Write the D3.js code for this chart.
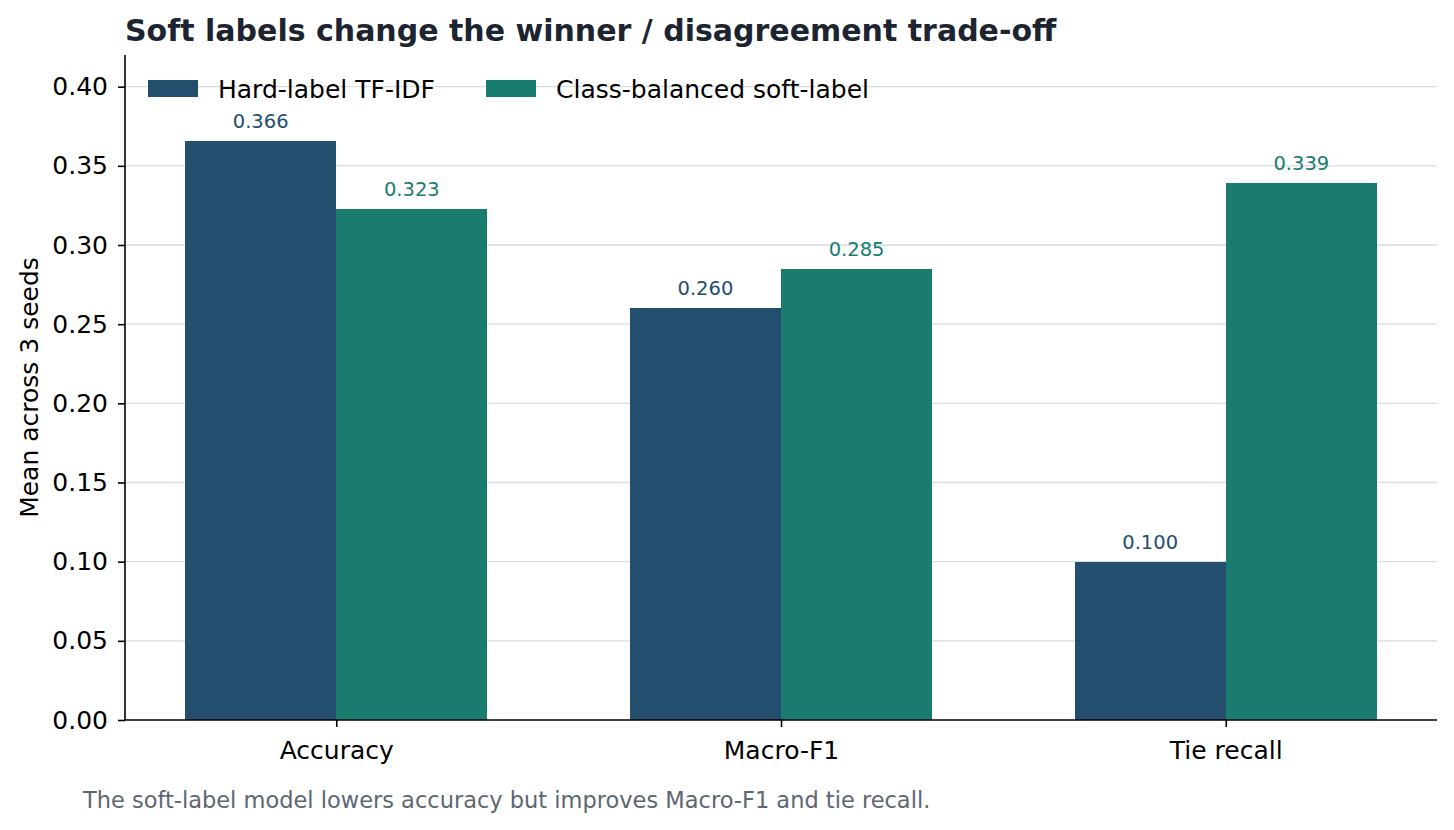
<!DOCTYPE html>
<html>
<head>
<meta charset="utf-8">
<script src="https://cdn.jsdelivr.net/npm/d3@7"></script>
<style>
  body { margin: 0; background: #fff; }
  svg { font-family: "DejaVu Sans", sans-serif; }
</style>
</head>
<body>
<svg width="1454" height="830"></svg>
<script>
const metrics = ["Accuracy", "Macro-F1", "Tie recall"];
const seriesNames = ["Hard-label TF-IDF", "Class-balanced soft-label"];
const hardValues = [0.366, 0.260, 0.100];
const softValues = [0.323, 0.285, 0.339];
const yTicks = [0, 0.05, 0.10, 0.15, 0.20, 0.25, 0.30, 0.35, 0.40];
const colors = ["#234e6e", "#1a7c6f"];

const width = 1454;
const height = 830;
const margin = {top: 55, right: 17, bottom: 110, left: 125};

const svg = d3.select("svg");

// matplotlib-style numeric x positions 0,1,2
const x = d3.scaleLinear()
    .domain([-0.475, 2.475])
    .range([margin.left, width - margin.right]);
const barW = 0.34;

const y = d3.scaleLinear()
    .domain([0, 0.42])
    .range([height - margin.bottom, margin.top]);

// gridlines
svg.append("g")
    .selectAll("line")
    .data(yTicks.slice(1))
    .join("line")
    .attr("x1", margin.left)
    .attr("x2", width - margin.right)
    .attr("y1", d => y(d))
    .attr("y2", d => y(d))
    .attr("stroke", "#d5dde5")
    .attr("stroke-width", 1.3);

const series = [hardValues, softValues];

series.forEach((vals, si) => {
    const offset = si === 0 ? -barW : 0;
    svg.append("g")
        .selectAll("rect")
        .data(vals)
        .join("rect")
        .attr("x", (d, i) => x(i + offset))
        .attr("width", x(barW) - x(0))
        .attr("y", d => y(d))
        .attr("height", d => y(0) - y(d))
        .attr("fill", colors[si])
        .attr("shape-rendering", "crispEdges");

    svg.append("g")
        .selectAll("text")
        .data(vals)
        .join("text")
        .attr("x", (d, i) => x(i + offset + barW / 2))
        .attr("y", d => y(d) - 13)
        .attr("text-anchor", "middle")
        .attr("font-size", 19.5)
        .attr("fill", colors[si])
        .text(d => d.toFixed(3));
});

// axes
const yAxis = svg.append("g")
    .attr("transform", `translate(${margin.left},0)`)
    .call(d3.axisLeft(y).tickValues(yTicks).tickFormat(d3.format(".2f")).tickSize(7).tickPadding(10));
yAxis.select(".domain").attr("d", `M0,${y(0)}V${margin.top}`).attr("stroke-width", 1.6);

const xAxis = svg.append("g")
    .attr("transform", `translate(0,${y(0)})`)
    .call(d3.axisBottom(x).tickValues([0, 1, 2]).tickFormat(i => metrics[i]).tickSize(7).tickPadding(14));
xAxis.select(".domain").attr("d", `M${margin.left},0H${width - margin.right}`).attr("stroke-width", 1.6);

svg.selectAll(".tick text").attr("font-size", 25).attr("fill", "#000").attr("font-family", "DejaVu Sans");
svg.selectAll(".tick line").attr("stroke-width", 1.6).attr("stroke", "#000");

// y label
svg.append("text")
    .attr("transform", `translate(38,${(margin.top + y(0)) / 2}) rotate(-90)`)
    .attr("text-anchor", "middle")
    .attr("font-size", 25)
    .attr("fill", "#000")
    .text("Mean across 3 seeds");

// title
svg.append("text")
    .attr("x", margin.left)
    .attr("y", 41)
    .attr("font-size", 30)
    .attr("font-weight", "bold")
    .attr("fill", "#1b2430")
    .text("Soft labels change the winner / disagreement trade-off");

// legend
const legendX = [148, 486];
seriesNames.forEach((name, i) => {
    const g = svg.append("g").attr("transform", `translate(${legendX[i]},80)`);
    g.append("rect").attr("width", 50).attr("height", 17).attr("fill", colors[i]);
    g.append("text").attr("x", 70).attr("y", 18).attr("font-size", 25).attr("fill", "#000").text(name);
});

// caption
svg.append("text")
    .attr("x", 83)
    .attr("y", 808)
    .attr("font-size", 22.5)
    .attr("fill", "#5d6673")
    .text("The soft-label model lowers accuracy but improves Macro-F1 and tie recall.");
</script>
</body>
</html>
